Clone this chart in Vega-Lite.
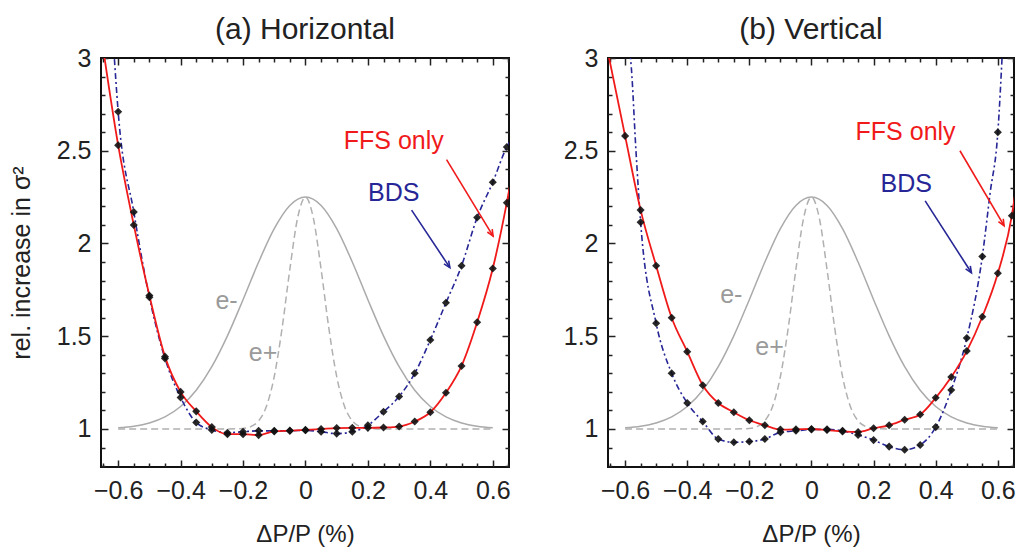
{
  "$schema": "https://vega.github.io/schema/vega-lite/v6.json",
  "padding": {"left": 8, "top": 14, "right": 2, "bottom": 2},
  "bounds": "flush",
  "spacing": 99,
  "config": {
    "view": {"stroke": "#111", "strokeWidth": 2},
    "font": "Liberation Sans",
    "axis": {"labelFont": "Liberation Sans", "titleFont": "Liberation Sans"},
    "title": {"font": "Liberation Sans"}
  },
  "datasets": {
    "gauss": [
      {"beam": "e-", "x": -0.6, "y": 1.0065}, {"beam": "e-", "x": -0.55, "y": 1.015}, {"beam": "e-", "x": -0.5, "y": 1.0325},
      {"beam": "e-", "x": -0.45, "y": 1.065}, {"beam": "e-", "x": -0.4, "y": 1.121}, {"beam": "e-", "x": -0.35, "y": 1.209},
      {"beam": "e-", "x": -0.3, "y": 1.336}, {"beam": "e-", "x": -0.25, "y": 1.502}, {"beam": "e-", "x": -0.2, "y": 1.697},
      {"beam": "e-", "x": -0.15, "y": 1.9}, {"beam": "e-", "x": -0.1, "y": 2.08}, {"beam": "e-", "x": -0.05, "y": 2.205},
      {"beam": "e-", "x": 0, "y": 2.25}, {"beam": "e-", "x": 0.05, "y": 2.205}, {"beam": "e-", "x": 0.1, "y": 2.08},
      {"beam": "e-", "x": 0.15, "y": 1.9}, {"beam": "e-", "x": 0.2, "y": 1.697}, {"beam": "e-", "x": 0.25, "y": 1.502},
      {"beam": "e-", "x": 0.3, "y": 1.336}, {"beam": "e-", "x": 0.35, "y": 1.209}, {"beam": "e-", "x": 0.4, "y": 1.121},
      {"beam": "e-", "x": 0.45, "y": 1.065}, {"beam": "e-", "x": 0.5, "y": 1.0325}, {"beam": "e-", "x": 0.55, "y": 1.015},
      {"beam": "e-", "x": 0.6, "y": 1.0065},
      {"beam": "e+", "x": -0.6, "y": 1.0}, {"beam": "e+", "x": -0.25, "y": 1.0}, {"beam": "e+", "x": -0.2, "y": 1.003},
      {"beam": "e+", "x": -0.175, "y": 1.013}, {"beam": "e+", "x": -0.15, "y": 1.044}, {"beam": "e+", "x": -0.125, "y": 1.1225},
      {"beam": "e+", "x": -0.1, "y": 1.283}, {"beam": "e+", "x": -0.075, "y": 1.542}, {"beam": "e+", "x": -0.05, "y": 1.862},
      {"beam": "e+", "x": -0.025, "y": 2.139}, {"beam": "e+", "x": 0, "y": 2.25}, {"beam": "e+", "x": 0.025, "y": 2.139},
      {"beam": "e+", "x": 0.05, "y": 1.862}, {"beam": "e+", "x": 0.075, "y": 1.542}, {"beam": "e+", "x": 0.1, "y": 1.283},
      {"beam": "e+", "x": 0.125, "y": 1.1225}, {"beam": "e+", "x": 0.15, "y": 1.044}, {"beam": "e+", "x": 0.175, "y": 1.013},
      {"beam": "e+", "x": 0.2, "y": 1.003}, {"beam": "e+", "x": 0.25, "y": 1.0}, {"beam": "e+", "x": 0.6, "y": 1.0}
    ],
    "curves": [
      {"p": "H", "s": "FFS", "x": -0.655, "y": 3.13, "m": 0}, {"p": "H", "s": "FFS", "x": -0.6, "y": 2.53, "m": 1},
      {"p": "H", "s": "FFS", "x": -0.55, "y": 2.1, "m": 1}, {"p": "H", "s": "FFS", "x": -0.5, "y": 1.72, "m": 1},
      {"p": "H", "s": "FFS", "x": -0.45, "y": 1.39, "m": 1}, {"p": "H", "s": "FFS", "x": -0.4, "y": 1.2, "m": 1},
      {"p": "H", "s": "FFS", "x": -0.35, "y": 1.095, "m": 1}, {"p": "H", "s": "FFS", "x": -0.3, "y": 1.01, "m": 1},
      {"p": "H", "s": "FFS", "x": -0.25, "y": 0.972, "m": 1}, {"p": "H", "s": "FFS", "x": -0.2, "y": 0.972, "m": 1},
      {"p": "H", "s": "FFS", "x": -0.15, "y": 0.967, "m": 1}, {"p": "H", "s": "FFS", "x": -0.1, "y": 0.987, "m": 1},
      {"p": "H", "s": "FFS", "x": -0.05, "y": 0.991, "m": 1}, {"p": "H", "s": "FFS", "x": 0, "y": 0.995, "m": 1},
      {"p": "H", "s": "FFS", "x": 0.05, "y": 1.0, "m": 1}, {"p": "H", "s": "FFS", "x": 0.1, "y": 1.005, "m": 1},
      {"p": "H", "s": "FFS", "x": 0.15, "y": 1.006, "m": 1}, {"p": "H", "s": "FFS", "x": 0.2, "y": 1.006, "m": 1},
      {"p": "H", "s": "FFS", "x": 0.25, "y": 1.008, "m": 1}, {"p": "H", "s": "FFS", "x": 0.3, "y": 1.013, "m": 1},
      {"p": "H", "s": "FFS", "x": 0.35, "y": 1.04, "m": 1}, {"p": "H", "s": "FFS", "x": 0.4, "y": 1.09, "m": 1},
      {"p": "H", "s": "FFS", "x": 0.45, "y": 1.195, "m": 1}, {"p": "H", "s": "FFS", "x": 0.5, "y": 1.34, "m": 1},
      {"p": "H", "s": "FFS", "x": 0.55, "y": 1.575, "m": 1}, {"p": "H", "s": "FFS", "x": 0.6, "y": 1.865, "m": 1},
      {"p": "H", "s": "FFS", "x": 0.645, "y": 2.22, "m": 1}, {"p": "H", "s": "FFS", "x": 0.655, "y": 2.31, "m": 0},
      {"p": "H", "s": "BDS", "x": -0.615, "y": 3.07, "m": 0}, {"p": "H", "s": "BDS", "x": -0.6, "y": 2.71, "m": 1},
      {"p": "H", "s": "BDS", "x": -0.55, "y": 2.17, "m": 1}, {"p": "H", "s": "BDS", "x": -0.5, "y": 1.71, "m": 1},
      {"p": "H", "s": "BDS", "x": -0.45, "y": 1.38, "m": 1}, {"p": "H", "s": "BDS", "x": -0.4, "y": 1.17, "m": 1},
      {"p": "H", "s": "BDS", "x": -0.35, "y": 1.035, "m": 1}, {"p": "H", "s": "BDS", "x": -0.3, "y": 0.995, "m": 1},
      {"p": "H", "s": "BDS", "x": -0.25, "y": 0.98, "m": 1}, {"p": "H", "s": "BDS", "x": -0.2, "y": 0.985, "m": 1},
      {"p": "H", "s": "BDS", "x": -0.15, "y": 0.99, "m": 1}, {"p": "H", "s": "BDS", "x": -0.1, "y": 0.99, "m": 1},
      {"p": "H", "s": "BDS", "x": -0.05, "y": 0.99, "m": 1}, {"p": "H", "s": "BDS", "x": 0, "y": 0.993, "m": 1},
      {"p": "H", "s": "BDS", "x": 0.05, "y": 0.985, "m": 1}, {"p": "H", "s": "BDS", "x": 0.1, "y": 0.975, "m": 1},
      {"p": "H", "s": "BDS", "x": 0.15, "y": 0.985, "m": 1}, {"p": "H", "s": "BDS", "x": 0.2, "y": 1.02, "m": 1},
      {"p": "H", "s": "BDS", "x": 0.25, "y": 1.093, "m": 1}, {"p": "H", "s": "BDS", "x": 0.3, "y": 1.175, "m": 1},
      {"p": "H", "s": "BDS", "x": 0.35, "y": 1.3, "m": 1}, {"p": "H", "s": "BDS", "x": 0.4, "y": 1.48, "m": 1},
      {"p": "H", "s": "BDS", "x": 0.45, "y": 1.68, "m": 1}, {"p": "H", "s": "BDS", "x": 0.5, "y": 1.88, "m": 1},
      {"p": "H", "s": "BDS", "x": 0.55, "y": 2.14, "m": 1}, {"p": "H", "s": "BDS", "x": 0.6, "y": 2.33, "m": 1},
      {"p": "H", "s": "BDS", "x": 0.645, "y": 2.52, "m": 1}, {"p": "H", "s": "BDS", "x": 0.655, "y": 2.55, "m": 0},
      {"p": "V", "s": "FFS", "x": -0.66, "y": 3.07, "m": 0}, {"p": "V", "s": "FFS", "x": -0.6, "y": 2.58, "m": 1},
      {"p": "V", "s": "FFS", "x": -0.55, "y": 2.18, "m": 1}, {"p": "V", "s": "FFS", "x": -0.5, "y": 1.88, "m": 1},
      {"p": "V", "s": "FFS", "x": -0.45, "y": 1.6, "m": 1}, {"p": "V", "s": "FFS", "x": -0.4, "y": 1.417, "m": 1},
      {"p": "V", "s": "FFS", "x": -0.35, "y": 1.236, "m": 1}, {"p": "V", "s": "FFS", "x": -0.3, "y": 1.14, "m": 1},
      {"p": "V", "s": "FFS", "x": -0.25, "y": 1.09, "m": 1}, {"p": "V", "s": "FFS", "x": -0.2, "y": 1.047, "m": 1},
      {"p": "V", "s": "FFS", "x": -0.15, "y": 1.02, "m": 1}, {"p": "V", "s": "FFS", "x": -0.1, "y": 0.997, "m": 1},
      {"p": "V", "s": "FFS", "x": -0.05, "y": 0.998, "m": 1}, {"p": "V", "s": "FFS", "x": 0, "y": 1.0, "m": 1},
      {"p": "V", "s": "FFS", "x": 0.05, "y": 0.994, "m": 1}, {"p": "V", "s": "FFS", "x": 0.1, "y": 0.987, "m": 1},
      {"p": "V", "s": "FFS", "x": 0.15, "y": 0.984, "m": 1}, {"p": "V", "s": "FFS", "x": 0.2, "y": 1.004, "m": 1},
      {"p": "V", "s": "FFS", "x": 0.25, "y": 1.02, "m": 1}, {"p": "V", "s": "FFS", "x": 0.3, "y": 1.05, "m": 1},
      {"p": "V", "s": "FFS", "x": 0.35, "y": 1.078, "m": 1}, {"p": "V", "s": "FFS", "x": 0.4, "y": 1.168, "m": 1},
      {"p": "V", "s": "FFS", "x": 0.45, "y": 1.28, "m": 1}, {"p": "V", "s": "FFS", "x": 0.5, "y": 1.42, "m": 1},
      {"p": "V", "s": "FFS", "x": 0.55, "y": 1.605, "m": 1}, {"p": "V", "s": "FFS", "x": 0.6, "y": 1.84, "m": 1},
      {"p": "V", "s": "FFS", "x": 0.645, "y": 2.15, "m": 1}, {"p": "V", "s": "FFS", "x": 0.655, "y": 2.26, "m": 0},
      {"p": "V", "s": "BDS", "x": -0.59, "y": 3.1, "m": 0}, {"p": "V", "s": "BDS", "x": -0.58, "y": 2.95, "m": 0},
      {"p": "V", "s": "BDS", "x": -0.565, "y": 2.5, "m": 0}, {"p": "V", "s": "BDS", "x": -0.55, "y": 2.115, "m": 1},
      {"p": "V", "s": "BDS", "x": -0.5, "y": 1.57, "m": 1}, {"p": "V", "s": "BDS", "x": -0.45, "y": 1.3, "m": 1},
      {"p": "V", "s": "BDS", "x": -0.4, "y": 1.14, "m": 1}, {"p": "V", "s": "BDS", "x": -0.35, "y": 1.04, "m": 1},
      {"p": "V", "s": "BDS", "x": -0.3, "y": 0.946, "m": 1}, {"p": "V", "s": "BDS", "x": -0.25, "y": 0.928, "m": 1},
      {"p": "V", "s": "BDS", "x": -0.2, "y": 0.932, "m": 1}, {"p": "V", "s": "BDS", "x": -0.15, "y": 0.946, "m": 1},
      {"p": "V", "s": "BDS", "x": -0.1, "y": 0.982, "m": 1}, {"p": "V", "s": "BDS", "x": -0.05, "y": 0.99, "m": 1},
      {"p": "V", "s": "BDS", "x": 0, "y": 0.997, "m": 1}, {"p": "V", "s": "BDS", "x": 0.05, "y": 0.998, "m": 1},
      {"p": "V", "s": "BDS", "x": 0.1, "y": 0.99, "m": 1}, {"p": "V", "s": "BDS", "x": 0.15, "y": 0.968, "m": 1},
      {"p": "V", "s": "BDS", "x": 0.2, "y": 0.94, "m": 1}, {"p": "V", "s": "BDS", "x": 0.25, "y": 0.905, "m": 1},
      {"p": "V", "s": "BDS", "x": 0.3, "y": 0.888, "m": 1}, {"p": "V", "s": "BDS", "x": 0.35, "y": 0.914, "m": 1},
      {"p": "V", "s": "BDS", "x": 0.4, "y": 1.01, "m": 1}, {"p": "V", "s": "BDS", "x": 0.45, "y": 1.21, "m": 1},
      {"p": "V", "s": "BDS", "x": 0.5, "y": 1.49, "m": 1}, {"p": "V", "s": "BDS", "x": 0.55, "y": 1.93, "m": 1},
      {"p": "V", "s": "BDS", "x": 0.575, "y": 2.27, "m": 0}, {"p": "V", "s": "BDS", "x": 0.6, "y": 2.6, "m": 1},
      {"p": "V", "s": "BDS", "x": 0.615, "y": 3.05, "m": 0}
    ],
    "notes": [
      {"p": "H", "kind": "FFS", "t": "FFS only", "x": 0.283, "y": 2.55},
      {"p": "H", "kind": "BDS", "t": "BDS", "x": 0.283, "y": 2.274},
      {"p": "H", "kind": "e", "t": "e-", "x": -0.253, "y": 1.69},
      {"p": "H", "kind": "e", "t": "e+", "x": -0.136, "y": 1.41},
      {"p": "V", "kind": "FFS", "t": "FFS only", "x": 0.303, "y": 2.6},
      {"p": "V", "kind": "BDS", "t": "BDS", "x": 0.305, "y": 2.32},
      {"p": "V", "kind": "e", "t": "e-", "x": -0.258, "y": 1.72},
      {"p": "V", "kind": "e", "t": "e+", "x": -0.135, "y": 1.44}
    ],
    "arrows": [
      {"p": "H", "kind": "FFS", "x": 0.452, "y": 2.452, "x2": 0.601, "y2": 2.04},
      {"p": "H", "kind": "BDS", "x": 0.34, "y": 2.18, "x2": 0.4626, "y2": 1.87},
      {"p": "V", "kind": "FFS", "x": 0.478, "y": 2.5, "x2": 0.62, "y2": 2.096},
      {"p": "V", "kind": "BDS", "x": 0.366, "y": 2.23, "x2": 0.515, "y2": 1.842}
    ]
  },
  "hconcat": [
    {
      "width": 408, "height": 409,
      "title": {"text": "(a) Horizontal", "fontSize": 30, "fontWeight": "normal", "color": "#222", "offset": 1, "anchor": "middle"},
      "layer": [
        {
          "data": {"name": "gauss"}, "transform": [{"filter": "datum.beam == 'e-'"}],
          "mark": {"type": "line", "color": "#aaaaaa", "strokeWidth": 1.5, "interpolate": "monotone", "clip": true},
          "encoding": {
            "x": {"field": "x", "type": "quantitative", "scale": {"domain": [-0.655, 0.652], "nice": false, "zero": false},
              "axis": {"orient": "bottom", "values": [-0.65,-0.6,-0.55,-0.5,-0.45,-0.4,-0.35,-0.3,-0.25,-0.2,-0.15,-0.1,-0.05,0,0.05,0.1,0.15,0.2,0.25,0.3,0.35,0.4,0.45,0.5,0.55,0.6,0.65],
                "domain": false, "grid": false, "tickColor": "#222", "tickWidth": 1.5,
                "tickSize": {"condition": {"test": "abs(round(datum.value*100)) % 20 == 0", "value": -7}, "value": -4},
                "format": ".1f", "labelExpr": "abs(round(datum.value*100)) % 20 == 0 ? (datum.value == 0 ? '0' : datum.label) : ''",
                "labelFontSize": 25, "labelColor": "#222", "labelPadding": 18, "labelFlush": false, "labelOverlap": false,
                "title": "ΔP/P (%)", "titleFontSize": 24, "titleFontWeight": "normal", "titleColor": "#222", "titlePadding": 16}},
            "y": {"field": "y", "type": "quantitative", "scale": {"domain": [0.795, 3], "nice": false, "zero": false},
              "axis": {"orient": "left", "values": [0.8,0.9,1,1.1,1.2,1.3,1.4,1.5,1.6,1.7,1.8,1.9,2,2.1,2.2,2.3,2.4,2.5,2.6,2.7,2.8,2.9,3],
                "domain": false, "grid": false, "tickColor": "#222", "tickWidth": 1.5,
                "tickSize": {"condition": {"test": "round(datum.value*10) % 5 == 0", "value": -7}, "value": -4},
                "format": "~g", "labelExpr": "round(datum.value*10) % 5 == 0 ? datum.label : ''",
                "labelFontSize": 25, "labelColor": "#222", "labelPadding": 17, "labelOverlap": false,
                "title": "rel. increase in σ²", "titleFontSize": 25, "titleFontWeight": "normal", "titleColor": "#222", "titlePadding": 22}}
          }
        },
        {
          "data": {"name": "gauss"}, "transform": [{"filter": "datum.beam == 'e+'"}],
          "mark": {"type": "line", "color": "#b0b0b0", "strokeWidth": 1.5, "strokeDash": [7, 4], "interpolate": "monotone", "clip": true},
          "encoding": {
            "x": {"field": "x", "type": "quantitative", "scale": {"domain": [-0.655, 0.652], "nice": false, "zero": false},
              "axis": {"orient": "top", "values": [-0.65,-0.6,-0.55,-0.5,-0.45,-0.4,-0.35,-0.3,-0.25,-0.2,-0.15,-0.1,-0.05,0,0.05,0.1,0.15,0.2,0.25,0.3,0.35,0.4,0.45,0.5,0.55,0.6,0.65],
                "domain": false, "grid": false, "labels": false, "title": null, "tickColor": "#222", "tickWidth": 1.5,
                "tickSize": {"condition": {"test": "abs(round(datum.value*100)) % 20 == 0", "value": -7}, "value": -4}}},
            "y": {"field": "y", "type": "quantitative", "scale": {"domain": [0.795, 3], "nice": false, "zero": false},
              "axis": {"orient": "right", "values": [0.8,0.9,1,1.1,1.2,1.3,1.4,1.5,1.6,1.7,1.8,1.9,2,2.1,2.2,2.3,2.4,2.5,2.6,2.7,2.8,2.9,3],
                "domain": false, "grid": false, "labels": false, "title": null, "tickColor": "#222", "tickWidth": 1.5,
                "tickSize": {"condition": {"test": "round(datum.value*10) % 5 == 0", "value": -7}, "value": -4}}}
          }
        },
        {
          "data": {"name": "curves"}, "transform": [{"filter": "datum.p == 'H' && datum.s == 'BDS'"}],
          "mark": {"type": "line", "color": "#262696", "strokeWidth": 1.6, "strokeDash": [6, 3, 2, 3], "interpolate": "monotone", "clip": true},
          "encoding": {"x": {"field": "x", "type": "quantitative", "axis": null}, "y": {"field": "y", "type": "quantitative", "axis": null}}
        },
        {
          "data": {"name": "curves"}, "transform": [{"filter": "datum.p == 'H' && datum.s == 'FFS'"}],
          "mark": {"type": "line", "color": "#f01a1a", "strokeWidth": 1.8, "interpolate": "monotone", "clip": true},
          "encoding": {"x": {"field": "x", "type": "quantitative", "axis": null}, "y": {"field": "y", "type": "quantitative", "axis": null}}
        },
        {
          "data": {"name": "curves"}, "transform": [{"filter": "datum.p == 'H' && datum.m == 1"}],
          "mark": {"type": "point", "shape": "diamond", "filled": true, "color": "#111", "size": 65, "opacity": 0.9, "clip": true},
          "encoding": {"x": {"field": "x", "type": "quantitative", "axis": null}, "y": {"field": "y", "type": "quantitative", "axis": null}}
        },
        {
          "data": {"name": "arrows"}, "transform": [{"filter": "datum.p == 'H'"}],
          "mark": {"type": "rule", "strokeWidth": 1.6},
          "encoding": {
            "x": {"field": "x", "type": "quantitative", "axis": null}, "y": {"field": "y", "type": "quantitative", "axis": null},
            "x2": {"field": "x2"}, "y2": {"field": "y2"},
            "color": {"field": "kind", "type": "nominal", "scale": {"domain": ["FFS", "BDS", "e"], "range": ["#f01a1a", "#262696", "#9a9a9a"]}, "legend": null}
          }
        },
        {
          "data": {"name": "arrows"}, "transform": [{"filter": "datum.p == 'H' && datum.kind == 'FFS'"}],
          "mark": {"type": "point", "shape": "M-0.7,1.6L0,0L0.7,1.6", "filled": false, "strokeWidth": 1.6, "size": 64, "angle": 149, "opacity": 1, "color": "#f01a1a"},
          "encoding": {"x": {"field": "x2", "type": "quantitative", "axis": null}, "y": {"field": "y2", "type": "quantitative", "axis": null}}
        },
        {
          "data": {"name": "arrows"}, "transform": [{"filter": "datum.p == 'H' && datum.kind == 'BDS'"}],
          "mark": {"type": "point", "shape": "M-0.7,1.6L0,0L0.7,1.6", "filled": false, "strokeWidth": 1.6, "size": 64, "angle": 146, "opacity": 1, "color": "#262696"},
          "encoding": {"x": {"field": "x2", "type": "quantitative", "axis": null}, "y": {"field": "y2", "type": "quantitative", "axis": null}}
        },
        {
          "data": {"name": "notes"}, "transform": [{"filter": "datum.p == 'H'"}],
          "mark": {"type": "text", "fontSize": 25, "align": "center", "baseline": "middle"},
          "encoding": {
            "x": {"field": "x", "type": "quantitative", "axis": null}, "y": {"field": "y", "type": "quantitative", "axis": null},
            "text": {"field": "t"},
            "color": {"field": "kind", "type": "nominal", "scale": {"domain": ["FFS", "BDS", "e"], "range": ["#f01a1a", "#262696", "#9a9a9a"]}, "legend": null}
          }
        }
      ],
      "resolve": {"axis": {"x": "independent", "y": "independent"}}
    },
    {
      "width": 406, "height": 409,
      "title": {"text": "(b) Vertical", "fontSize": 30, "fontWeight": "normal", "color": "#222", "offset": 1, "anchor": "middle"},
      "layer": [
        {
          "data": {"name": "gauss"}, "transform": [{"filter": "datum.beam == 'e-'"}],
          "mark": {"type": "line", "color": "#aaaaaa", "strokeWidth": 1.5, "interpolate": "monotone", "clip": true},
          "encoding": {
            "x": {"field": "x", "type": "quantitative", "scale": {"domain": [-0.655, 0.652], "nice": false, "zero": false},
              "axis": {"orient": "bottom", "values": [-0.65,-0.6,-0.55,-0.5,-0.45,-0.4,-0.35,-0.3,-0.25,-0.2,-0.15,-0.1,-0.05,0,0.05,0.1,0.15,0.2,0.25,0.3,0.35,0.4,0.45,0.5,0.55,0.6,0.65],
                "domain": false, "grid": false, "tickColor": "#222", "tickWidth": 1.5,
                "tickSize": {"condition": {"test": "abs(round(datum.value*100)) % 20 == 0", "value": -7}, "value": -4},
                "format": ".1f", "labelExpr": "abs(round(datum.value*100)) % 20 == 0 ? (datum.value == 0 ? '0' : datum.label) : ''",
                "labelFontSize": 25, "labelColor": "#222", "labelPadding": 18, "labelFlush": false, "labelOverlap": false,
                "title": "ΔP/P (%)", "titleFontSize": 24, "titleFontWeight": "normal", "titleColor": "#222", "titlePadding": 16}},
            "y": {"field": "y", "type": "quantitative", "scale": {"domain": [0.795, 3], "nice": false, "zero": false},
              "axis": {"orient": "left", "values": [0.8,0.9,1,1.1,1.2,1.3,1.4,1.5,1.6,1.7,1.8,1.9,2,2.1,2.2,2.3,2.4,2.5,2.6,2.7,2.8,2.9,3],
                "domain": false, "grid": false, "tickColor": "#222", "tickWidth": 1.5,
                "tickSize": {"condition": {"test": "round(datum.value*10) % 5 == 0", "value": -7}, "value": -4},
                "format": "~g", "labelExpr": "round(datum.value*10) % 5 == 0 ? datum.label : ''",
                "labelFontSize": 25, "labelColor": "#222", "labelPadding": 17, "labelOverlap": false, "title": null}}
          }
        },
        {
          "data": {"name": "gauss"}, "transform": [{"filter": "datum.beam == 'e+'"}],
          "mark": {"type": "line", "color": "#b0b0b0", "strokeWidth": 1.5, "strokeDash": [7, 4], "interpolate": "monotone", "clip": true},
          "encoding": {
            "x": {"field": "x", "type": "quantitative", "scale": {"domain": [-0.655, 0.652], "nice": false, "zero": false},
              "axis": {"orient": "top", "values": [-0.65,-0.6,-0.55,-0.5,-0.45,-0.4,-0.35,-0.3,-0.25,-0.2,-0.15,-0.1,-0.05,0,0.05,0.1,0.15,0.2,0.25,0.3,0.35,0.4,0.45,0.5,0.55,0.6,0.65],
                "domain": false, "grid": false, "labels": false, "title": null, "tickColor": "#222", "tickWidth": 1.5,
                "tickSize": {"condition": {"test": "abs(round(datum.value*100)) % 20 == 0", "value": -7}, "value": -4}}},
            "y": {"field": "y", "type": "quantitative", "scale": {"domain": [0.795, 3], "nice": false, "zero": false},
              "axis": {"orient": "right", "values": [0.8,0.9,1,1.1,1.2,1.3,1.4,1.5,1.6,1.7,1.8,1.9,2,2.1,2.2,2.3,2.4,2.5,2.6,2.7,2.8,2.9,3],
                "domain": false, "grid": false, "labels": false, "title": null, "tickColor": "#222", "tickWidth": 1.5,
                "tickSize": {"condition": {"test": "round(datum.value*10) % 5 == 0", "value": -7}, "value": -4}}}
          }
        },
        {
          "data": {"name": "curves"}, "transform": [{"filter": "datum.p == 'V' && datum.s == 'BDS'"}],
          "mark": {"type": "line", "color": "#262696", "strokeWidth": 1.6, "strokeDash": [6, 3, 2, 3], "interpolate": "monotone", "clip": true},
          "encoding": {"x": {"field": "x", "type": "quantitative", "axis": null}, "y": {"field": "y", "type": "quantitative", "axis": null}}
        },
        {
          "data": {"name": "curves"}, "transform": [{"filter": "datum.p == 'V' && datum.s == 'FFS'"}],
          "mark": {"type": "line", "color": "#f01a1a", "strokeWidth": 1.8, "interpolate": "monotone", "clip": true},
          "encoding": {"x": {"field": "x", "type": "quantitative", "axis": null}, "y": {"field": "y", "type": "quantitative", "axis": null}}
        },
        {
          "data": {"name": "curves"}, "transform": [{"filter": "datum.p == 'V' && datum.m == 1"}],
          "mark": {"type": "point", "shape": "diamond", "filled": true, "color": "#111", "size": 65, "opacity": 0.9, "clip": true},
          "encoding": {"x": {"field": "x", "type": "quantitative", "axis": null}, "y": {"field": "y", "type": "quantitative", "axis": null}}
        },
        {
          "data": {"name": "arrows"}, "transform": [{"filter": "datum.p == 'V'"}],
          "mark": {"type": "rule", "strokeWidth": 1.6},
          "encoding": {
            "x": {"field": "x", "type": "quantitative", "axis": null}, "y": {"field": "y", "type": "quantitative", "axis": null},
            "x2": {"field": "x2"}, "y2": {"field": "y2"},
            "color": {"field": "kind", "type": "nominal", "scale": {"domain": ["FFS", "BDS", "e"], "range": ["#f01a1a", "#262696", "#9a9a9a"]}, "legend": null}
          }
        },
        {
          "data": {"name": "arrows"}, "transform": [{"filter": "datum.p == 'V' && datum.kind == 'FFS'"}],
          "mark": {"type": "point", "shape": "M-0.7,1.6L0,0L0.7,1.6", "filled": false, "strokeWidth": 1.6, "size": 64, "angle": 150, "opacity": 1, "color": "#f01a1a"},
          "encoding": {"x": {"field": "x2", "type": "quantitative", "axis": null}, "y": {"field": "y2", "type": "quantitative", "axis": null}}
        },
        {
          "data": {"name": "arrows"}, "transform": [{"filter": "datum.p == 'V' && datum.kind == 'BDS'"}],
          "mark": {"type": "point", "shape": "M-0.7,1.6L0,0L0.7,1.6", "filled": false, "strokeWidth": 1.6, "size": 64, "angle": 147, "opacity": 1, "color": "#262696"},
          "encoding": {"x": {"field": "x2", "type": "quantitative", "axis": null}, "y": {"field": "y2", "type": "quantitative", "axis": null}}
        },
        {
          "data": {"name": "notes"}, "transform": [{"filter": "datum.p == 'V'"}],
          "mark": {"type": "text", "fontSize": 25, "align": "center", "baseline": "middle"},
          "encoding": {
            "x": {"field": "x", "type": "quantitative", "axis": null}, "y": {"field": "y", "type": "quantitative", "axis": null},
            "text": {"field": "t"},
            "color": {"field": "kind", "type": "nominal", "scale": {"domain": ["FFS", "BDS", "e"], "range": ["#f01a1a", "#262696", "#9a9a9a"]}, "legend": null}
          }
        }
      ],
      "resolve": {"axis": {"x": "independent", "y": "independent"}}
    }
  ]
}
